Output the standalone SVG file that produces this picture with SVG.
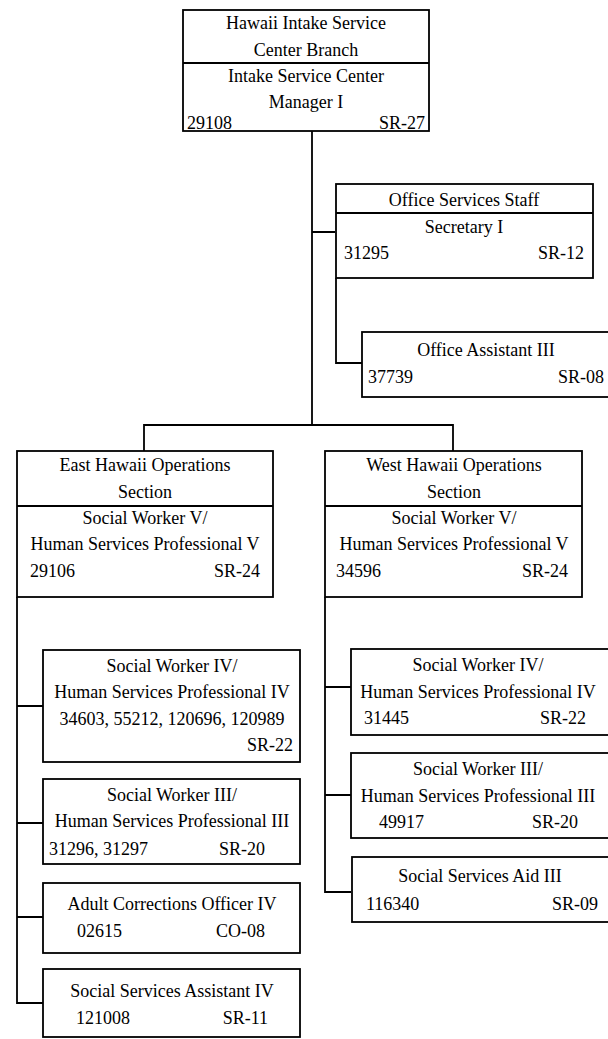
<svg xmlns="http://www.w3.org/2000/svg" width="608" height="1039" viewBox="0 0 608 1039">
<style>
.b{fill:#fff;stroke:#000;stroke-width:1.8}
.l{fill:none;stroke:#000;stroke-width:1.8}
text{font-family:"Liberation Serif","Times New Roman","DejaVu Serif",serif;font-size:18px;fill:#000}
.c{text-anchor:middle}
.r{text-anchor:end}
</style>
<rect width="608" height="1039" fill="#fff"/>
<g id="connectors">
<path class="l" d="M312 131V425M144 451V425H453V451M312 232H335M336 278V363H362M17 597V1003H43M17 706H43M17 823H43M17 917H43M325 597V892H351M325 687H351M325 795H351"/>
</g>
<g id="top">
<rect class="b" x="183" y="10" width="246" height="121"/>
<path class="l" d="M183 63H429"/>
<text class="c" x="306" y="29">Hawaii Intake Service</text>
<text class="c" x="306" y="56">Center Branch</text>
<text class="c" x="306" y="82">Intake Service Center</text>
<text class="c" x="306" y="108">Manager I</text>
<text x="187" y="129">29108</text>
<text class="r" x="425" y="129">SR-27</text>
</g>
<g id="office">
<rect class="b" x="336" y="184" width="257" height="94"/>
<path class="l" d="M336 213H593"/>
<text class="c" x="464" y="206">Office Services Staff</text>
<text class="c" x="464" y="233">Secretary I</text>
<text x="344" y="259">31295</text>
<text class="r" x="584" y="259">SR-12</text>
</g>
<g id="oa">
<rect class="b" x="362" y="332" width="250" height="65"/>
<text class="c" x="486" y="356">Office Assistant III</text>
<text x="368" y="383">37739</text>
<text class="r" x="604" y="383">SR-08</text>
</g>
<g id="east">
<rect class="b" x="17" y="451" width="256" height="146"/>
<path class="l" d="M17 506H273"/>
<text class="c" x="145" y="471">East Hawaii Operations</text>
<text class="c" x="145" y="498">Section</text>
<text class="c" x="145" y="524">Social Worker V/</text>
<text class="c" x="145" y="550">Human Services Professional V</text>
<text x="30" y="577">29106</text>
<text class="r" x="260" y="577">SR-24</text>
</g>
<g id="west">
<rect class="b" x="325" y="451" width="257" height="146"/>
<path class="l" d="M325 506H582"/>
<text class="c" x="454" y="471">West Hawaii Operations</text>
<text class="c" x="454" y="498">Section</text>
<text class="c" x="454" y="524">Social Worker V/</text>
<text class="c" x="454" y="550">Human Services Professional V</text>
<text x="336" y="577">34596</text>
<text class="r" x="568" y="577">SR-24</text>
</g>
<g id="esw4">
<rect class="b" x="43" y="650" width="257" height="112"/>
<text class="c" x="172" y="672">Social Worker IV/</text>
<text class="c" x="172" y="698">Human Services Professional IV</text>
<text class="c" x="172" y="725">34603, 55212, 120696, 120989</text>
<text class="r" x="293" y="751">SR-22</text>
</g>
<g id="esw3">
<rect class="b" x="43" y="779" width="257" height="85"/>
<text class="c" x="172" y="801">Social Worker III/</text>
<text class="c" x="172" y="827">Human Services Professional III</text>
<text x="49" y="855">31296, 31297</text>
<text class="r" x="265" y="855">SR-20</text>
</g>
<g id="aco">
<rect class="b" x="43" y="883" width="257" height="70"/>
<text class="c" x="172" y="910">Adult Corrections Officer IV</text>
<text x="77" y="937">02615</text>
<text class="r" x="265" y="937">CO-08</text>
</g>
<g id="ssa4">
<rect class="b" x="43" y="969" width="257" height="68"/>
<text class="c" x="172" y="997">Social Services Assistant IV</text>
<text x="76" y="1024">121008</text>
<text class="r" x="268" y="1024">SR-11</text>
</g>
<g id="wsw4">
<rect class="b" x="351" y="649" width="260" height="86"/>
<text class="c" x="478" y="671">Social Worker IV/</text>
<text class="c" x="478" y="698">Human Services Professional IV</text>
<text x="364" y="724">31445</text>
<text class="r" x="586" y="724">SR-22</text>
</g>
<g id="wsw3">
<rect class="b" x="351" y="753" width="260" height="85"/>
<text class="c" x="478" y="775">Social Worker III/</text>
<text class="c" x="478" y="802">Human Services Professional III</text>
<text x="379" y="828">49917</text>
<text class="r" x="578" y="828">SR-20</text>
</g>
<g id="ssa3">
<rect class="b" x="352" y="857" width="260" height="65"/>
<text class="c" x="480" y="882">Social Services Aid  III</text>
<text x="366" y="910">116340</text>
<text class="r" x="598" y="910">SR-09</text>
</g>
</svg>
